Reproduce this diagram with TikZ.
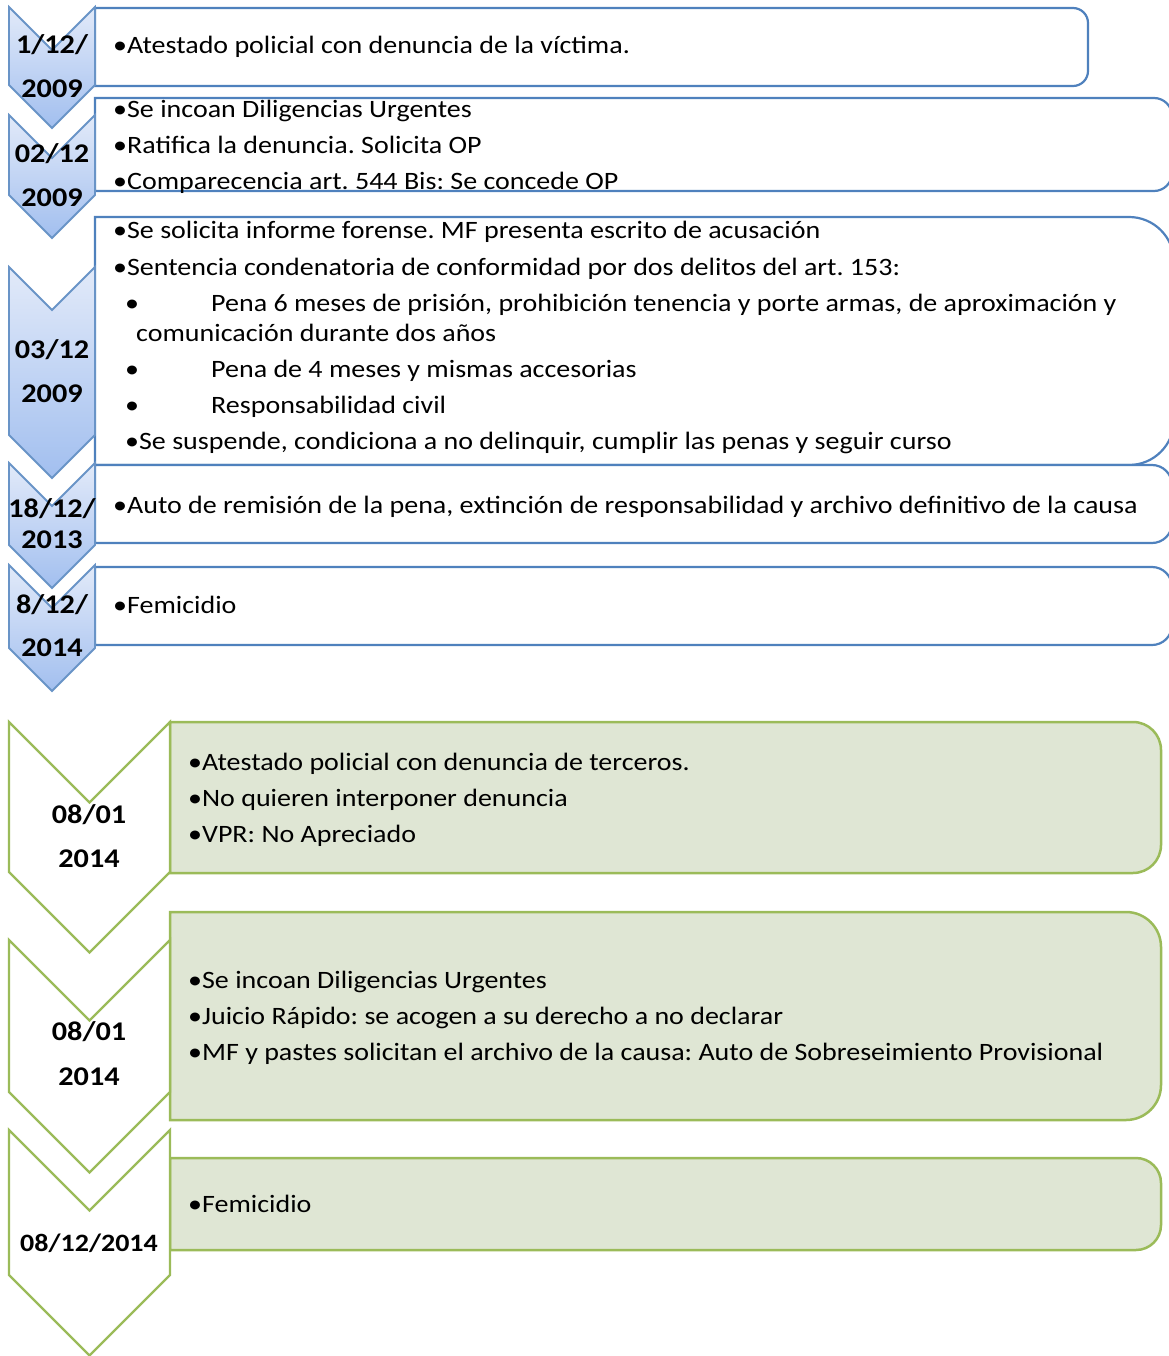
\documentclass[tikz,border=0pt]{standalone}
\usepackage{fontspec}
\setmainfont{Carlito}[FakeStretch=1.12]
\frenchspacing
\definecolor{bstroke}{HTML}{4F81BD}
\definecolor{btop}{HTML}{E2EAF9}
\definecolor{bbot}{HTML}{A2BFEF}
\definecolor{gstroke}{HTML}{9BBB59}
\definecolor{gfill}{HTML}{DFE6D4}
\tikzset{
  bluebox/.style={draw=bstroke, line width=2.2pt, fill=white},
  greenbox/.style={draw=gstroke, line width=2.5pt, fill=gfill},
  bluechev/.style={draw=bstroke!85, line width=1.8pt, top color=btop, bottom color=bbot},
  greenchev/.style={draw=gstroke, line width=2.3pt, fill=white},
  txt/.style={anchor=base west, inner sep=0pt, font=\fontsize{25}{30}\selectfont},
  datetxt/.style={anchor=base, inner sep=0pt, font=\fontsize{27}{30}\selectfont\bfseries},
}
\newcommand{\mychevron}[5]{%
  \draw[#1] (#2,-#4) -- ({(#2+#3)/2},{-#4-(#3-#2)/2}) -- (#3,-#4) -- (#3,-#5)
    -- ({(#2+#3)/2},{-#5-(#3-#2)/2}) -- (#2,-#5) -- cycle;}
\newcommand{\myrbox}[6]{%
  \draw[#1] (#2,-#4) -- ({#3-#6},-#4) arc[start angle=90,end angle=0,radius=#6]
    -- (#3,{-#5+#6}) arc[start angle=0,end angle=-90,radius=#6] -- (#2,-#5) -- cycle;}
\begin{document}
\begin{tikzpicture}[x=1pt,y=1pt]
\useasboundingbox (0,0) rectangle (1168,-1356);
% ---- blue boxes
\myrbox{bluebox}{95}{1088}{8}{86}{15}
\myrbox{bluebox}{95}{1172}{98}{191}{18}
\myrbox{bluebox}{95}{1174}{217}{465}{45}
\myrbox{bluebox}{95}{1172}{465}{543}{20}
\myrbox{bluebox}{95}{1172}{567}{645}{20}
% ---- blue chevrons
\mychevron{bluechev}{9}{95}{565}{648}
\mychevron{bluechev}{9}{95}{463}{545}
\mychevron{bluechev}{9}{95}{267}{435}
\mychevron{bluechev}{9}{95}{115}{195}
\mychevron{bluechev}{9}{95}{7}{85}
% ---- green boxes
\myrbox{greenbox}{170}{1161}{722}{873}{28}
\myrbox{greenbox}{170}{1161}{912}{1120}{35}
\myrbox{greenbox}{170}{1161}{1158}{1250}{25}
% ---- green chevrons
\mychevron{greenchev}{9}{170}{1130}{1275}
\mychevron{greenchev}{9}{170}{940}{1092}
\mychevron{greenchev}{9}{170}{722}{872}
% ---- dates (blue)
\node[datetxt] (d1a) at (52,-54) {1/12/};
\node[datetxt] (d1b) at (52,-98) {2009};
\node[datetxt] (d2a) at (52,-163) {02/12};
\node[datetxt] (d2b) at (52,-207) {2009};
\node[datetxt] (d3a) at (52,-358) {03/12};
\node[datetxt] (d3b) at (52,-402) {2009};
\node[datetxt] (d4a) at (52,-517) {18/12/};
\node[datetxt] (d4b) at (52,-548) {2013};
\node[datetxt] (d5a) at (52,-613) {8/12/};
\node[datetxt] (d5b) at (52,-656) {2014};
% ---- dates (green)
\node[datetxt] (g1a) at (89,-823) {08/01};
\node[datetxt] (g1b) at (89,-867) {2014};
\node[datetxt] (g2a) at (89,-1040) {08/01};
\node[datetxt] (g2b) at (89,-1085) {2014};
\node[datetxt, font=\fontsize{25}{30}\selectfont\bfseries] (g3a) at (89,-1251) {08/12/2014};
% ---- blue texts
\node[txt] (b1) at (113,-54) {•Atestado policial con denuncia de la víctima.};
\node[txt] (b2a) at (113,-118) {•Se incoan Diligencias Urgentes};
\node[txt] (b2b) at (113,-154) {•Ratifica la denuncia. Solicita OP};
\node[txt] (b2c) at (113,-190) {•Comparecencia art. 544 Bis: Se concede OP};
\node[txt] (b3a) at (113,-239) {•Se solicita informe forense. MF presenta escrito de acusación};
\node[txt] (b3b) at (113,-275) {•Sentencia condenatoria de conformidad por dos delitos del art. 153:};
\node[txt] (b3c1) at (125,-311) {•};
\node[txt] (b3c) at (211,-311) {Pena 6 meses de prisión, prohibición tenencia y porte armas, de aproximación y};
\node[txt] (b3d) at (136,-341) {comunicación durante dos años};
\node[txt] (b3e1) at (125,-377) {•};
\node[txt] (b3e) at (211,-377) {Pena de 4 meses y mismas accesorias};
\node[txt] (b3f1) at (125,-413) {•};
\node[txt] (b3f) at (211,-413) {Responsabilidad civil};
\node[txt] (b3g) at (125,-449) {•Se suspende, condiciona a no delinquir, cumplir las penas y seguir curso};
\node[txt] (b4) at (113,-513) {•Auto de remisión de la pena, extinción de responsabilidad y archivo definitivo de la causa};
\node[txt] (b5) at (113,-613) {•Femicidio};
% ---- green texts
\node[txt] (ga1) at (188,-770) {•Atestado policial con denuncia de terceros.};
\node[txt] (ga2) at (188,-806) {•No quieren interponer denuncia};
\node[txt] (ga3) at (188,-842) {•VPR: No Apreciado};
\node[txt] (gb1) at (188,-988) {•Se incoan Diligencias Urgentes};
\node[txt] (gb2) at (188,-1024) {•Juicio Rápido: se acogen a su derecho a no declarar};
\node[txt] (gb3) at (188,-1060) {•MF y pastes solicitan el archivo de la causa: Auto de Sobreseimiento Provisional};
\node[txt] (gc1) at (188,-1212) {•Femicidio};
\end{tikzpicture}
\end{document}
